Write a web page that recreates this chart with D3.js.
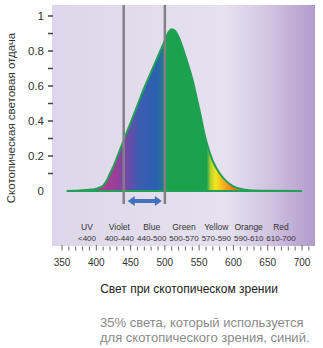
<!DOCTYPE html>
<html><head><meta charset="utf-8">
<script src="https://cdn.jsdelivr.net/npm/d3@7"></script>
<style>html,body{margin:0;padding:0;background:#fff;}svg{display:block;font-family:"Liberation Sans",Arial,sans-serif;}</style>
</head><body>
<svg id="c" width="323" height="348"></svg>
<script>
// ---- data ----
const wavelengths = [357, 380, 400, 405, 410, 415, 420, 425, 430, 440, 450, 460, 470, 480, 490, 500, 505, 510, 515, 520, 530, 540, 550, 560, 570, 580, 590, 600, 610, 620, 640, 660, 700];
const efficacy    = [0, 0.004, 0.013, 0.02, 0.03, 0.058, 0.1, 0.14, 0.19, 0.29, 0.39, 0.49, 0.59, 0.68, 0.77, 0.86, 0.905, 0.925, 0.915, 0.88, 0.77, 0.64, 0.47, 0.29, 0.17, 0.1, 0.055, 0.027, 0.013, 0.006, 0.002, 0.001, 0];
const bandNames  = ["UV", "Violet", "Blue", "Green", "Yellow", "Orange", "Red"];
const bandRanges = ["<400", "400-440", "440-500", "500-570", "570-590", "590-610", "610-700"];
const markers = [440, 500];
const highlight = [440, 500];
const yTickLabels = ["0", "0.2", "0.4", "0.6", "0.8", "1"];
const xTickLabels = ["350", "400", "450", "500", "550", "600", "650", "700"];
const yTitle = "Скотопическая световая отдача";
const xTitle = "Свет при скотопическом зрении";
const note = ["35% света, который используется", "для скотопического зрения, синий."];

const svg = d3.select("#c");
const x = d3.scaleLinear().domain([350, 700]).range([62, 302]);
const y = d3.scaleLinear().domain([0, 1]).range([191, 16]);
const defs = svg.append("defs");

// background panel
const bg = defs.append("linearGradient").attr("id", "bg").attr("x1", 0).attr("x2", 1).attr("y1", 0).attr("y2", 0);
[[0, "#ddd6ea"], [0.5, "#e4dfee"], [0.66, "#e6e1ef"], [0.82, "#d2c5e2"], [1, "#b29bcb"]].forEach(s => bg.append("stop").attr("offset", s[0]).attr("stop-color", s[1]));
svg.append("rect").attr("x", 52).attr("y", 5).attr("width", 263).attr("height", 241).attr("fill", "url(#bg)");

// spectrum fill gradient
const spec = defs.append("linearGradient").attr("id", "spec").attr("gradientUnits", "userSpaceOnUse")
  .attr("x1", x(350)).attr("x2", x(700)).attr("y1", 0).attr("y2", 0);
const specStops = [[350, "#1ca24c"], [398, "#1ca24c"], [404, "#b0408f"], [428, "#9a3f9a"], [446, "#6e4aa8"], [462, "#3d5cb2"], [488, "#2a62b0"], [499, "#287a8e"], [502, "#1ca24c"], [561, "#1ca24c"], [567, "#b8d42c"], [574, "#f2e61e"], [588, "#f5a622"], [600, "#f07420"], [625, "#e85a20"], [700, "#e85a20"]];
specStops.forEach(s => spec.append("stop").attr("offset", (x(s[0]) - x(350)) / (x(700) - x(350))).attr("stop-color", s[1]));

const pts = wavelengths.map((w, i) => [w, efficacy[i]]);
const area = d3.area().x(d => x(d[0])).y0(y(0)).y1(d => y(d[1])).curve(d3.curveMonotoneX);
const line = d3.line().x(d => x(d[0])).y(d => y(d[1])).curve(d3.curveMonotoneX);
svg.append("path").datum(pts).attr("d", area).attr("fill", "url(#spec)");
svg.append("path").datum(pts).attr("d", line).attr("fill", "none").attr("stroke", "#22a055").attr("stroke-width", 2);
svg.append("line").attr("x1", x(357)).attr("x2", x(700)).attr("y1", y(0)).attr("y2", y(0)).attr("stroke", "#22a055").attr("stroke-width", 2);

// marker lines
svg.selectAll(".mk").data(markers).enter().append("line")
  .attr("x1", d => x(d)).attr("x2", d => x(d)).attr("y1", 5).attr("y2", 204)
  .attr("stroke", "#808086").attr("stroke-width", 2.5);

// double arrow
const ay = 201, ax1 = x(highlight[0]) + 4, ax2 = x(highlight[1]) - 3;
svg.append("path").attr("fill", "#4272be")
  .attr("d", `M${ax1},${ay} L${ax1 + 7},${ay - 5} L${ax1 + 7},${ay - 2} L${ax2 - 7},${ay - 2} L${ax2 - 7},${ay - 5} L${ax2},${ay} L${ax2 - 7},${ay + 5} L${ax2 - 7},${ay + 2} L${ax1 + 7},${ay + 2} L${ax1 + 7},${ay + 5} Z`);

// band labels
const bx = d3.scalePoint().domain(bandNames).range([87, 281]);
svg.selectAll(".bn").data(bandNames).enter().append("text")
  .attr("x", d => bx(d)).attr("y", 230).attr("text-anchor", "middle")
  .attr("font-size", 8.5).attr("fill", "#333").text(d => d);
svg.selectAll(".br").data(bandRanges).enter().append("text")
  .attr("x", (d, i) => bx(bandNames[i])).attr("y", 240.5).attr("text-anchor", "middle")
  .attr("font-size", 8).attr("fill", "#333").text(d => d);

// x axis ticks
const xt = d3.range(350, 711, 10);
svg.selectAll(".xt").data(xt).enter().append("line")
  .attr("x1", d => x(d)).attr("x2", d => x(d))
  .attr("y1", d => d % 50 === 0 ? 245 : 246.5).attr("y2", 250.5)
  .attr("stroke", "#666").attr("stroke-width", 1);
svg.selectAll(".xl").data(xTickLabels).enter().append("text")
  .attr("x", d => x(+d)).attr("y", 266).attr("text-anchor", "middle")
  .attr("font-size", 10).attr("fill", "#333").text(d => d);

// y axis ticks
const yt = d3.range(1, 11).map(d => d / 10);
svg.selectAll(".yt").data(yt).enter().append("line")
  .attr("x1", 48).attr("x2", 53).attr("y1", d => y(d)).attr("y2", d => y(d))
  .attr("stroke", "#444").attr("stroke-width", 1.5);
svg.selectAll(".yl").data(yTickLabels).enter().append("text")
  .attr("x", 44).attr("y", d => y(+d) + 4).attr("text-anchor", "end")
  .attr("font-size", 11.5).attr("fill", "#333").text(d => d);

// titles
svg.append("text").attr("transform", "translate(15,118) rotate(-90)").attr("text-anchor", "middle")
  .attr("font-size", 11.5).attr("fill", "#333").text(yTitle);
svg.append("text").attr("x", 189).attr("y", 293).attr("text-anchor", "middle")
  .attr("font-size", 12).attr("fill", "#222").text(xTitle);
svg.selectAll(".nt").data(note).enter().append("text")
  .attr("x", 100).attr("y", (d, i) => 327 + i * 15)
  .attr("font-size", 13).attr("fill", "#8a8a8a").text(d => d);
</script>
</body></html>
